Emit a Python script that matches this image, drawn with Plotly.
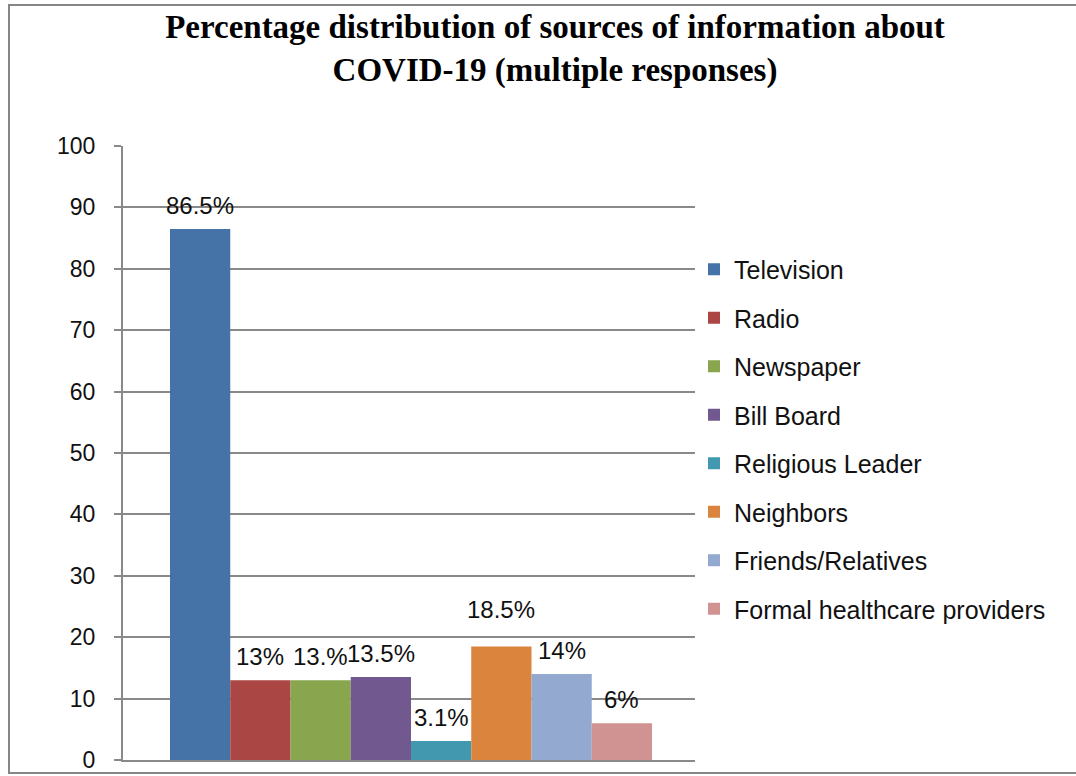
import plotly.graph_objects as go

categories = ["Television", "Radio", "Newspaper", "Bill Board", "Religious Leader",
              "Neighbors", "Friends/Relatives", "Formal healthcare providers"]
values = [86.5, 13.0, 13.0, 13.5, 3.1, 18.5, 14.0, 6.0]
labels = ["86.5%", "13%", "13.%", "13.5%", "3.1%", "18.5%", "14%", "6%"]
colors = ["#4572A7", "#AA4643", "#89A54E", "#71588F", "#4198AF",
          "#DB843D", "#93A9CF", "#D19392"]
y_ticks = [0, 10, 20, 30, 40, 50, 60, 70, 80, 90, 100]

W, H = 1076, 776
L, R, T, B = 123, 381, 146, 16
PW, PH = W - L - R, H - T - B
GRID = "#898989"
FONT = "Liberation Sans"

fig = go.Figure()
for i, (cat, val, col) in enumerate(zip(categories, values, colors)):
    fig.add_trace(go.Bar(
        x=[i], y=[val], name=cat, width=1, marker_color=col,
        marker_line_width=0, legendgroup=cat, showlegend=True,
        hoverinfo="name+y",
    ))

extra_shift = {5: 13}
for i, (val, lab) in enumerate(zip(values, labels)):
    fig.add_annotation(x=i, y=val, text=lab, showarrow=False, xanchor="center",
                       yanchor="bottom", yshift=8 + extra_shift.get(i, 0),
                       font=dict(family=FONT, size=24, color="#111111"))

def px_x(px):
    return (px - L) / PW

def px_y(py):
    return (H - B - py) / PH

fig.add_shape(type="rect", xref="paper", yref="paper",
              x0=px_x(9), x1=px_x(1085), y0=px_y(773), y1=px_y(5),
              line=dict(color="#868686", width=2), fillcolor="rgba(0,0,0,0)",
              layer="below")

fig.update_layout(
    width=W, height=H,
    margin=dict(l=L, r=R, t=T, b=B, autoexpand=False),
    paper_bgcolor="white", plot_bgcolor="white",
    barmode="overlay",
    title=dict(
        text="<b>Percentage distribution of sources of information about<br>COVID-19 (multiple responses)</b>",
        x=555 / W, xanchor="center", xref="container",
        y=1 - 38 / H, yanchor="top", yref="container",
        font=dict(family="Liberation Serif", size=33, color="#000000"),
    ),
    legend=dict(
        x=px_x(694), xanchor="left", y=px_y(439), yanchor="middle",
        font=dict(family=FONT, size=25, color="#111111"),
        tracegroupgap=13, traceorder="grouped",
        bgcolor="rgba(0,0,0,0)",
    ),
    showlegend=True,
)
fig.update_xaxes(range=[-0.5 - 47 / 60.25, 7.5 + 43 / 60.25],
                 showticklabels=False, showgrid=False, zeroline=False,
                 showline=True, linecolor=GRID, linewidth=2, ticks="",
                 fixedrange=True, automargin=False)
fig.update_yaxes(range=[0, 100], tickvals=y_ticks, showgrid=True,
                 gridcolor=GRID, gridwidth=2, zeroline=False,
                 showline=True, linecolor=GRID, linewidth=2,
                 ticks="outside", ticklen=7, tickcolor=GRID, tickwidth=2,
                 ticklabelstandoff=14, automargin=False,
                 tickfont=dict(family=FONT, size=23, color="#111111"))

fig.write_html("out.html")
